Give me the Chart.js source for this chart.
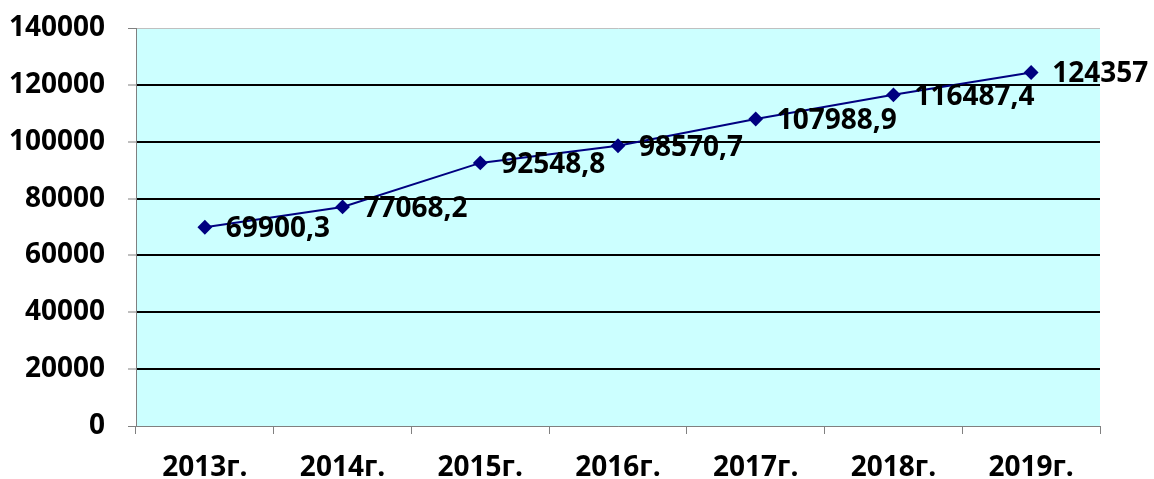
<!DOCTYPE html>
<html>
<head>
<meta charset="utf-8">
<script src="https://cdn.jsdelivr.net/npm/chart.js@4.4.1/dist/chart.umd.min.js"></script>
<style>
    html, body { margin: 0; padding: 0; background: #ffffff; }
    #wrap { width: 1154px; height: 479px; }
</style>
</head>
<body>
<div id="wrap"><canvas id="chart" width="1154" height="479"></canvas></div>
<script>
// Data
const years = ['2013г.', '2014г.', '2015г.', '2016г.', '2017г.', '2018г.', '2019г.'];
const values = [69900.3, 77068.2, 92548.8, 98570.7, 107988.9, 116487.4, 124357];
const yTicks = [0, 20000, 40000, 60000, 80000, 100000, 120000, 140000];

const FONT = '"Open Sans", "Liberation Sans", sans-serif';

// Light cyan plot background
const plotBackground = {
    id: 'plotBackground',
    beforeDraw(chart) {
        const { ctx, chartArea } = chart;
        ctx.save();
        ctx.fillStyle = '#ccffff';
        ctx.fillRect(chartArea.left, chartArea.top, chartArea.right - chartArea.left, chartArea.bottom - chartArea.top);
        ctx.restore();
    }
};

// Value labels to the right of each point
const valueLabels = {
    id: 'valueLabels',
    afterDatasetsDraw(chart) {
        const { ctx } = chart;
        const meta = chart.getDatasetMeta(0);
        ctx.save();
        ctx.font = 'bold 28px ' + FONT;
        ctx.fillStyle = '#000000';
        ctx.textAlign = 'left';
        ctx.textBaseline = 'alphabetic';
        meta.data.forEach((pt, i) => {
            const text = String(values[i]).replace('.', ',');
            ctx.fillText(text, pt.x + 21, pt.y + 10);
        });
        ctx.restore();
    }
};

new Chart(document.getElementById('chart'), {
    type: 'line',
    data: {
        labels: years,
        datasets: [{
            data: values,
            borderColor: '#000080',
            backgroundColor: '#000080',
            borderWidth: 2,
            pointStyle: 'rectRot',
            pointRadius: 6,
            pointHoverRadius: 6,
            pointBackgroundColor: '#000080',
            pointBorderColor: '#000080',
            tension: 0
        }]
    },
    options: {
        responsive: false,
        animation: false,
        events: [],
        layout: { padding: { top: 28, right: 54, left: 0, bottom: 0 } },
        plugins: {
            legend: { display: false },
            tooltip: { enabled: false }
        },
        scales: {
            x: {
                offset: true,
                grid: {
                    offset: true,
                    drawOnChartArea: false,
                    drawTicks: true,
                    tickLength: 8,
                    tickColor: '#808080',
                    tickWidth: 1
                },
                border: { color: '#808080', width: 1 },
                ticks: {
                    color: '#000000',
                    padding: 17,
                    maxRotation: 0,
                    font: { family: FONT, size: 28, weight: 'bold' }
                },
                afterFit(scale) {
                    scale.height = 53;
                    scale.paddingLeft = 0;
                    scale.paddingRight = 0;
                }
            },
            y: {
                min: 0,
                max: 140000,
                afterBuildTicks(scale) { scale.ticks = yTicks.map(v => ({ value: v })); },
                grid: {
                    color: ctx => {
                        const v = ctx.tick ? ctx.tick.value : 0;
                        if (v === 140000) return '#c0c0c0';
                        if (v === 0) return '#808080';
                        return '#000000';
                    },
                    lineWidth: ctx => {
                        const v = ctx.tick ? ctx.tick.value : 0;
                        return (v === 0 || v === 140000) ? 1 : 2;
                    },
                    tickLength: 8,
                    tickColor: '#808080',
                    tickWidth: 1
                },
                border: { color: '#808080', width: 1 },
                ticks: {
                    color: '#000000',
                    padding: 23,
                    callback: v => String(v),
                    font: { family: FONT, size: 28, weight: 'bold' }
                },
                afterFit(scale) {
                    scale.width = 136;
                    scale.paddingTop = 0;
                    scale.paddingBottom = 0;
                }
            }
        }
    },
    plugins: [plotBackground, valueLabels]
});
</script>
</body>
</html>
